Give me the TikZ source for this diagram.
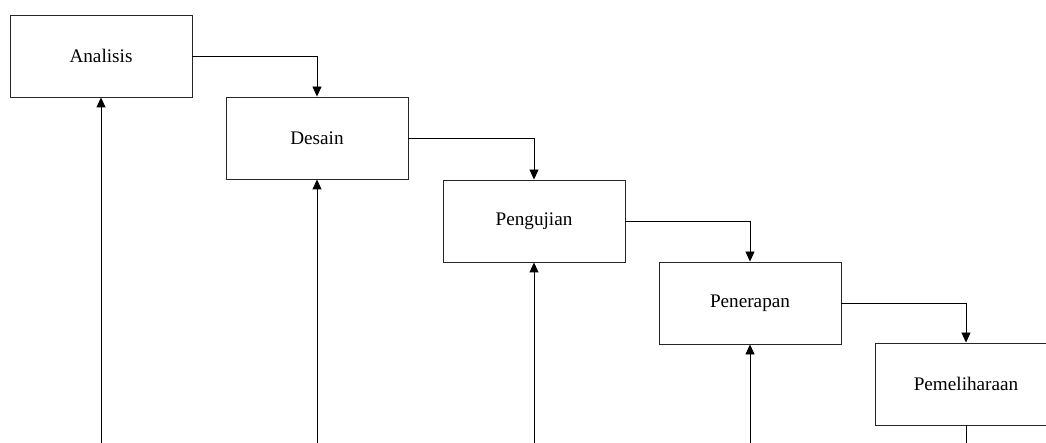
\documentclass[tikz,border=0pt]{standalone}
\usepackage{fontspec}
\setmainfont{Liberation Serif}
\usetikzlibrary{arrows.meta}
\begin{document}
\begin{tikzpicture}[x=1pt,y=-1pt,
  phase/.style={draw=black!85, line width=0.9pt, minimum width=182pt, minimum height=82pt, inner sep=0pt, font=\fontsize{19.2}{21}\selectfont},
  flow/.style={draw=black, line width=0.9pt, -{Triangle[length=10pt,width=9pt]}}]
\useasboundingbox (0,0) rectangle (1046,443);
\clip (0,0) rectangle (1046,443);
\node[phase] (a) at (101,56) {Analisis};
\node[phase] (d) at (317,138) {Desain};
\node[phase] (p) at (534,221) {Pengujian};
\node[phase] (r) at (750,303) {Penerapan};
\node[phase] (m) at (966,384) {Pemeliharaan};
\coordinate (ba) at (101,460);
\coordinate (bd) at (317,460);
\coordinate (bp) at (534,460);
\coordinate (br) at (750,460);
\coordinate (bm) at (966,460);
\draw[flow] (a.east) -| (d.north);
\draw[flow] (d.east) -| (p.north);
\draw[flow] (p.east) -| (r.north);
\draw[flow] (r.east) -| (m.north);
\draw[flow] (ba) -- (a.south);
\draw[flow] (bd) -- (d.south);
\draw[flow] (bp) -- (p.south);
\draw[flow] (br) -- (r.south);
\draw[line width=0.9pt] (m.south) -- (bm);
\end{tikzpicture}
\end{document}
